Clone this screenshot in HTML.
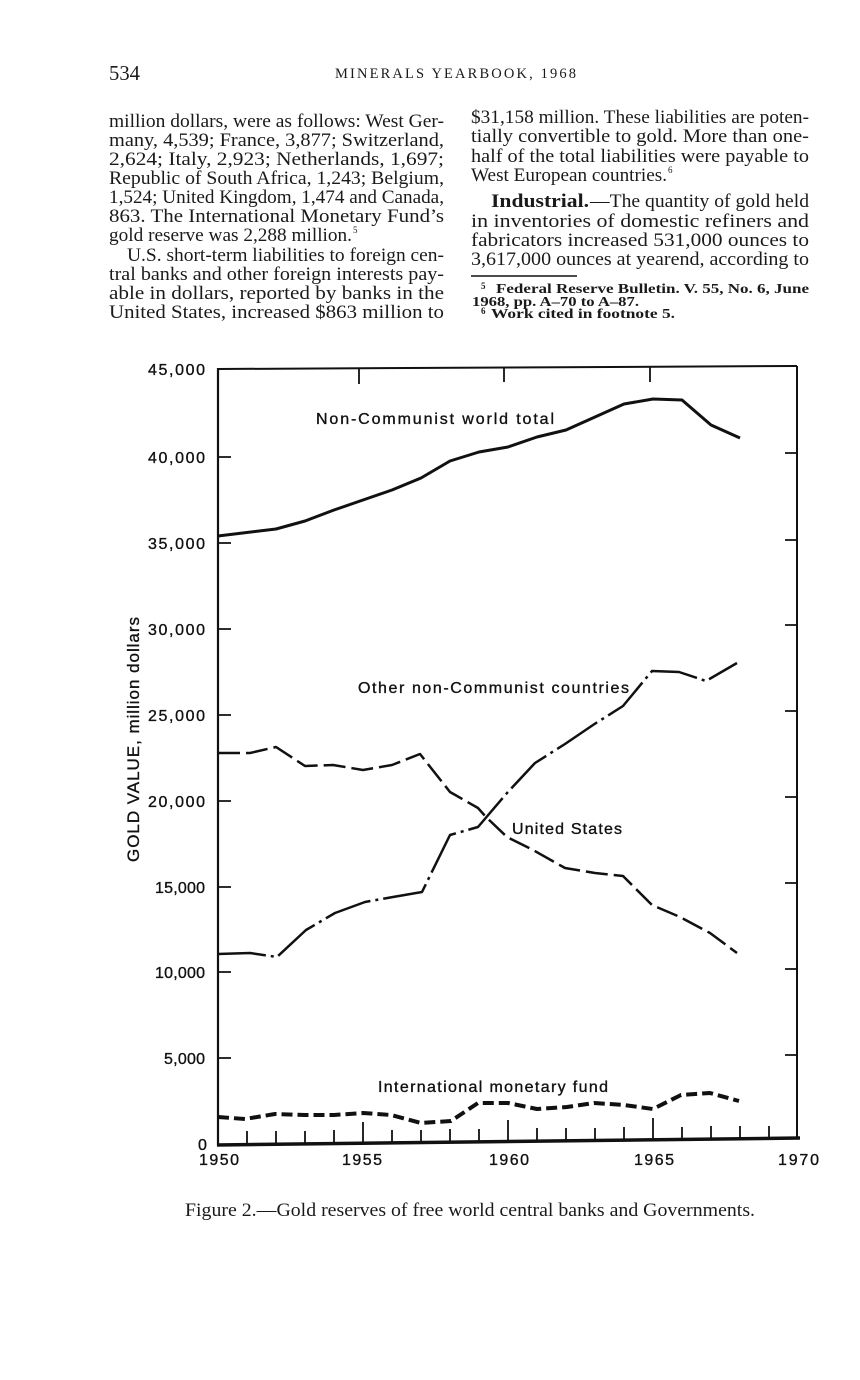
<!DOCTYPE html>
<html>
<head>
<meta charset="utf-8">
<style>
html,body{margin:0;padding:0;background:#fff;}
svg{display:block;}
.b{font-family:"Liberation Serif",serif;font-size:18.5px;fill:#1a1a1a;}
.f{font-family:"Liberation Serif",serif;font-size:14px;font-weight:bold;fill:#1a1a1a;}
.c{font-family:"Liberation Sans",sans-serif;font-size:16px;fill:#111;stroke:#111;stroke-width:0.35;}
.ln{fill:none;stroke:#111;stroke-linejoin:round;}
</style>
</head>
<body>
<svg width="860" height="1380" viewBox="0 0 860 1380" xmlns="http://www.w3.org/2000/svg">
<rect width="860" height="1380" fill="#fff"/>

<!-- Header -->
<text class="b" x="109" y="80" style="font-size:21px" textLength="31" lengthAdjust="spacingAndGlyphs">534</text>
<text class="b" x="335" y="78" style="font-size:14.5px" textLength="241" lengthAdjust="spacing">MINERALS YEARBOOK, 1968</text>

<!-- Left column -->
<text class="b" x="109" y="127" textLength="335" lengthAdjust="spacingAndGlyphs">million dollars, were as follows: West Ger-</text>
<text class="b" x="109" y="146" textLength="335" lengthAdjust="spacingAndGlyphs">many, 4,539; France, 3,877; Switzerland,</text>
<text class="b" x="109" y="165" textLength="335" lengthAdjust="spacingAndGlyphs">2,624; Italy, 2,923; Netherlands, 1,697;</text>
<text class="b" x="109" y="184" textLength="335" lengthAdjust="spacingAndGlyphs">Republic of South Africa, 1,243; Belgium,</text>
<text class="b" x="109" y="203" textLength="335" lengthAdjust="spacingAndGlyphs">1,524; United Kingdom, 1,474 and Canada,</text>
<text class="b" x="109" y="222" textLength="335" lengthAdjust="spacingAndGlyphs">863. The International Monetary Fund’s</text>
<text class="b" x="109" y="241" textLength="243" lengthAdjust="spacingAndGlyphs">gold reserve was 2,288 million.</text>
<text class="b" x="353" y="233" style="font-size:9px">5</text>
<text class="b" x="127" y="261" textLength="317" lengthAdjust="spacingAndGlyphs">U.S. short-term liabilities to foreign cen-</text>
<text class="b" x="109" y="280" textLength="335" lengthAdjust="spacingAndGlyphs">tral banks and other foreign interests pay-</text>
<text class="b" x="109" y="299" textLength="335" lengthAdjust="spacingAndGlyphs">able in dollars, reported by banks in the</text>
<text class="b" x="109" y="318" textLength="335" lengthAdjust="spacingAndGlyphs">United States, increased $863 million to</text>

<!-- Right column -->
<text class="b" x="471" y="123" textLength="338" lengthAdjust="spacingAndGlyphs">$31,158 million. These liabilities are poten-</text>
<text class="b" x="471" y="142" textLength="338" lengthAdjust="spacingAndGlyphs">tially convertible to gold. More than one-</text>
<text class="b" x="471" y="162" textLength="338" lengthAdjust="spacingAndGlyphs">half of the total liabilities were payable to</text>
<text class="b" x="471" y="181" textLength="196" lengthAdjust="spacingAndGlyphs">West European countries.</text>
<text class="b" x="668" y="173" style="font-size:9px">6</text>
<text class="b" x="491" y="207" font-weight="bold" textLength="98" lengthAdjust="spacingAndGlyphs">Industrial.</text>
<text class="b" x="590" y="207" textLength="219" lengthAdjust="spacingAndGlyphs">—The quantity of gold held</text>
<text class="b" x="471" y="227" textLength="338" lengthAdjust="spacingAndGlyphs">in inventories of domestic refiners and</text>
<text class="b" x="471" y="246" textLength="338" lengthAdjust="spacingAndGlyphs">fabricators increased 531,000 ounces to</text>
<text class="b" x="471" y="265" textLength="338" lengthAdjust="spacingAndGlyphs">3,617,000 ounces at yearend, according to</text>
<line x1="471" y1="276" x2="577" y2="276" stroke="#111" stroke-width="1.6"/>
<text class="f" x="481" y="289" style="font-size:9px">5</text>
<text class="f" x="496" y="293" textLength="313" lengthAdjust="spacingAndGlyphs">Federal Reserve Bulletin. V. 55, No. 6, June</text>
<text class="f" x="472" y="306" textLength="167" lengthAdjust="spacingAndGlyphs">1968, pp. A–70 to A–87.</text>
<text class="f" x="481" y="314" style="font-size:9px">6</text>
<text class="f" x="491" y="318" textLength="184" lengthAdjust="spacingAndGlyphs">Work cited in footnote 5.</text>

<!-- Chart frame -->
<path d="M218,369 L797,366" stroke="#111" stroke-width="2" fill="none"/>
<path d="M218,368 L218,1146" stroke="#111" stroke-width="2.2" fill="none"/>
<path d="M797,366 L797,1139" stroke="#111" stroke-width="2" fill="none"/>
<path d="M217,1145 L800,1138" stroke="#111" stroke-width="3.5" fill="none"/>

<!-- left ticks -->
<path d="M218,457h13M218,543h13M218,629h13M218,715h13M218,801h13M218,887h13M218,972h13M218,1058h13" stroke="#111" stroke-width="1.8"/>
<!-- right ticks -->
<path d="M797,453h-12M797,540h-12M797,625h-12M797,711h-12M797,797h-12M797,883h-12M797,969h-12M797,1055h-12" stroke="#111" stroke-width="1.8"/>
<!-- top ticks -->
<path d="M359,368v16M504,367v15M650,367v15" stroke="#111" stroke-width="1.8"/>
<!-- bottom ticks -->
<path d="M247,1145V1131M276,1144V1131M305,1144V1131M334,1144V1130M363,1143V1122M392,1143V1130M421,1143V1130M450,1142V1129M479,1142V1129M508,1142V1120M537,1141V1128M566,1141V1128M595,1141V1128M624,1140V1127M653,1140V1118M682,1139V1127M711,1139V1126M740,1139V1126M769,1138V1126" stroke="#111" stroke-width="1.8"/>

<!-- y tick labels -->
<text class="c" x="148" y="375" textLength="57" lengthAdjust="spacing">45,000</text>
<text class="c" x="148" y="463" textLength="57" lengthAdjust="spacing">40,000</text>
<text class="c" x="148" y="549" textLength="57" lengthAdjust="spacing">35,000</text>
<text class="c" x="148" y="635" textLength="57" lengthAdjust="spacing">30,000</text>
<text class="c" x="148" y="721" textLength="57" lengthAdjust="spacing">25,000</text>
<text class="c" x="148" y="807" textLength="57" lengthAdjust="spacing">20,000</text>
<text class="c" x="155" y="893" textLength="50" lengthAdjust="spacing">15,000</text>
<text class="c" x="155" y="978" textLength="50" lengthAdjust="spacing">10,000</text>
<text class="c" x="164" y="1064" textLength="41" lengthAdjust="spacing">5,000</text>
<text class="c" x="198" y="1150">0</text>

<!-- x labels -->
<text class="c" x="199" y="1165" textLength="40" lengthAdjust="spacing">1950</text>
<text class="c" x="342" y="1165" textLength="40" lengthAdjust="spacing">1955</text>
<text class="c" x="489" y="1165" textLength="40" lengthAdjust="spacing">1960</text>
<text class="c" x="634" y="1165" textLength="40" lengthAdjust="spacing">1965</text>
<text class="c" x="778" y="1165" textLength="41" lengthAdjust="spacing">1970</text>

<!-- y axis title -->
<text class="c" style="font-size:17px" transform="translate(139,740) rotate(-90)" x="-122" y="0" textLength="245" lengthAdjust="spacing">GOLD VALUE, million dollars</text>

<!-- series labels -->
<text class="c" x="316" y="424" textLength="238" lengthAdjust="spacing">Non-Communist world total</text>
<text class="c" x="358" y="693" textLength="271" lengthAdjust="spacing">Other non-Communist countries</text>
<text class="c" x="512" y="834" textLength="110" lengthAdjust="spacing">United States</text>
<text class="c" x="378" y="1092" textLength="230" lengthAdjust="spacing">International monetary fund</text>

<!-- Non-Communist world total -->
<polyline class="ln" stroke-width="3" points="218,536 276,529 305,521 334,510 363,500 392,490 421,478 450,461 479,452 508,447 537,437 566,430 595,417 624,404 653,399 682,400 711,425 740,438"/>

<!-- United States -->
<polyline class="ln" stroke-width="2.5" stroke-dasharray="22 6" points="218,753 250,753 276,747 305,766 333,765 363,770 392,765 420,754 450,792 478,808 486,817 507,837 533,850 565,868 595,873 623,876 652,905 680,917 710,933 737,953"/>

<!-- Other non-Communist countries -->
<polyline class="ln" stroke-width="2.5" stroke-dasharray="48 5 3 5" points="218,954 250,953 277,957 306,930 335,913 365,902 393,897 422,892 450,835 478,827 507,793 535,763 565,744 593,725 623,706 652,671 679,672 706,681 737,663"/>

<!-- IMF -->
<polyline class="ln" stroke-width="4" stroke-dasharray="11 5" points="218,1117 245,1119 275,1114 305,1115 334,1115 363,1113 391,1115 421,1123 451,1121 478,1103 508,1103 537,1109 567,1107 594,1103 624,1105 653,1109 681,1095 710,1093 739,1101"/>

<!-- Caption -->
<text class="b" x="185" y="1216" textLength="570" lengthAdjust="spacingAndGlyphs">Figure 2.—Gold reserves of free world central banks and Governments.</text>
</svg>
</body>
</html>
